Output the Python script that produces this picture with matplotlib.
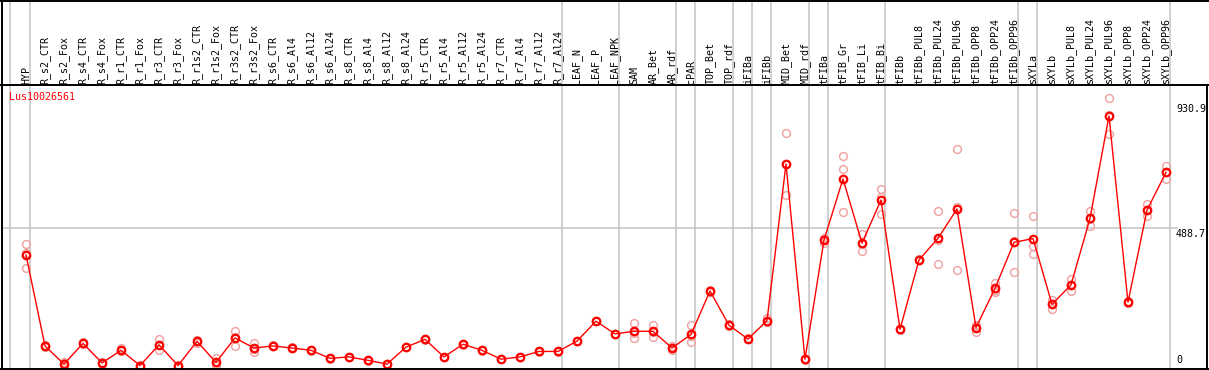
import matplotlib
matplotlib.use("Agg")
import matplotlib.pyplot as plt
from matplotlib.lines import Line2D
import matplotlib.transforms as mtransforms

categories = ["HYP", "R_s2_CTR", "R_s2_Fox", "R_s4_CTR", "R_s4_Fox", "R_r1_CTR", "R_r1_Fox",
              "R_r3_CTR", "R_r3_Fox", "R_r1s2_CTR", "R_r1s2_Fox", "R_r3s2_CTR", "R_r3s2_Fox",
              "R_s6_CTR", "R_s6_Al4", "R_s6_Al12", "R_s6_Al24", "R_s8_CTR", "R_s8_Al4",
              "R_s8_Al12", "R_s8_Al24", "R_r5_CTR", "R_r5_Al4", "R_r5_Al12", "R_r5_Al24",
              "R_r7_CTR", "R_r7_Al4", "R_r7_Al12", "R_r7_Al24", "LEAF_N", "LEAF_P", "LEAF_NPK",
              "SAM", "AR_Bet", "AR_rdf", "cPAR", "TOP_Bet", "TOP_rdf", "iFIBa", "iFIBb",
              "MID_Bet", "MID_rdf", "tFIBa", "tFIB_Gr", "tFIB_Li", "tFIB_Bi", "tFIBb",
              "tFIBb_PUL8", "tFIBb_PUL24", "tFIBb_PUL96", "tFIBb_OPP8", "tFIBb_OPP24",
              "tFIBb_OPP96", "sXYLa", "sXYLb", "sXYLb_PUL8", "sXYLb_PUL24", "sXYLb_PUL96",
              "sXYLb_OPP8", "sXYLb_OPP24", "sXYLb_OPP96"]

means = [396, 80, 17, 89, 21, 65, 12, 84, 12, 96, 23, 108, 73,
         80, 73, 65, 37, 42, 30, 17, 76, 103, 42, 86, 65, 34, 42, 61, 61,
         97, 166, 122, 131, 131, 73, 120, 271, 152, 104, 168,
         712, 34, 448, 660, 437, 587, 138, 379, 454, 556, 144, 280, 440,
         453, 225, 292, 523, 879, 232, 552, 683]

rep1 = [434, 82, 8, 95, 19, 72, 10, 103, 9, 102, 39, 132, 89,
        82, 75, 66, 38, 43, 31, 18, 77, 104, 43, 87, 66, 35, 43, 62, 62,
        98, 167, 123, 161, 153, 79, 152, 274, 155, 106, 178,
        819, 36, 455, 740, 469, 624, 140, 382, 549, 763, 130, 298, 541,
        530, 240, 313, 549, 940, 236, 573, 705]
rep2 = [403, 78, 20, 86, 24, 62, 14, 84, 14, 97, 18, 112, 70,
        79, 72, 64, 36, 41, 29, 16, 75, 102, 41, 85, 64, 33, 41, 60, 60,
        96, 165, 121, 124, 128, 73, 115, 268, 150, 103, 163,
        712, 32, 452, 694, 433, 596, 137, 377, 449, 562, 150, 276, 443,
        428, 226, 292, 522, 882, 230, 552, 685]
rep3 = [351, 80, 23, 86, 20, 61, 12, 65, 13, 89, 12, 80, 60,
        79, 72, 65, 37, 42, 30, 17, 76, 103, 42, 86, 65, 34, 42, 61, 61,
        97, 166, 122, 108, 112, 67, 93, 271, 151, 103, 163,
        604, 34, 437, 544, 409, 540, 137, 378, 364, 343, 152, 266, 336,
        399, 209, 271, 498, 815, 230, 531, 659]

group_ends = [0, 28, 31, 34, 35, 37, 38, 39, 41, 42, 45, 52, 53, 60]
scale_labels = ["930.9", "488.7", "0"]
scale_values = [930.9, 488.7, 0]
gene_id = "Lus10026561"

W, H = 1209, 370
fig = plt.figure(figsize=(W / 100, H / 100), dpi=100)

def px(x0, y0, x1, y1):
    return [x0 / W, 1 - y1 / H, (x1 - x0) / W, (y1 - y0) / H]

ax = fig.add_axes(px(2, 85, 1170, 369))
n = len(categories)
x = list(range(n))
ax.set_xlim((2 - 26) / 19, (1170 - 26) / 19)
ymax = 284 / 0.2879
ax.set_ylim(0, ymax)
for s in ax.spines.values():
    s.set_visible(False)
ax.set_xticks([])
ax.set_yticks([])

grey = "#c8c8c8"
head_frac = 1 + 85 / 284
# group separators
ax.axvline(-0.83, 0, head_frac, color=grey, lw=1.2, clip_on=False, zorder=1)
for g in group_ends:
    ax.axvline(g + 0.23, 0, head_frac, color=grey, lw=1.2, clip_on=False, zorder=1)
# mid gridline
ax.axhline(488.7, 0, (1177 - 2) / 1168, color=grey, lw=1.2, clip_on=False, zorder=1)

# replicates
for reps in (rep1, rep2, rep3):
    ax.plot(x, reps, ls="none", marker="o", ms=5.6, mfc="none", mec="#f0a0a0",
            mew=1.0, zorder=2, clip_on=False)
# means
ax.plot(x, means, color="#ff0000", lw=1.0, marker="o", ms=5.4, mfc="none",
        mec="#ff0000", mew=1.6, zorder=3, clip_on=False)

mono = "DejaVu Sans Mono"
tr = mtransforms.blended_transform_factory(ax.transData, ax.transAxes)
for i, lab in enumerate(categories):
    ax.text(i, 1 + 1.5 / 284, lab, transform=tr, rotation=90, ha="center", va="bottom",
            fontsize=7.2, family=mono, color="black", clip_on=False)

ax.text(9 / 1209, 1 - 97.5 / H, gene_id, transform=fig.transFigure, ha="left", va="center",
        fontsize=7.2, family=mono, color="#ff0000")

yt = ax.get_yaxis_transform()
offsets = [-3, -1, 4]
vas = ["top", "top", "bottom"]
for lab, v, off, va in zip(scale_labels, scale_values, offsets, vas):
    ax.annotate(lab, xy=((1176 - 2) / 1168, v), xycoords=yt, xytext=(0, off),
                textcoords="offset pixels", ha="left", va=va, fontsize=7.2,
                family=mono, color="black", annotation_clip=False)

# frame lines (figure pixel coords)
def fline(xs, ys, **kw):
    fig.add_artist(Line2D([a / W for a in xs], [1 - b / H for b in ys],
                          transform=fig.transFigure, color="black", lw=1.4, **kw))

fline([0, W], [0.5, 0.5])
fline([0, W], [85, 85])
fline([0, W], [369, 369])
fline([2, 2], [0, 370])
fline([1207, 1207], [85, 370])

fig.savefig("out.png", dpi=100)
